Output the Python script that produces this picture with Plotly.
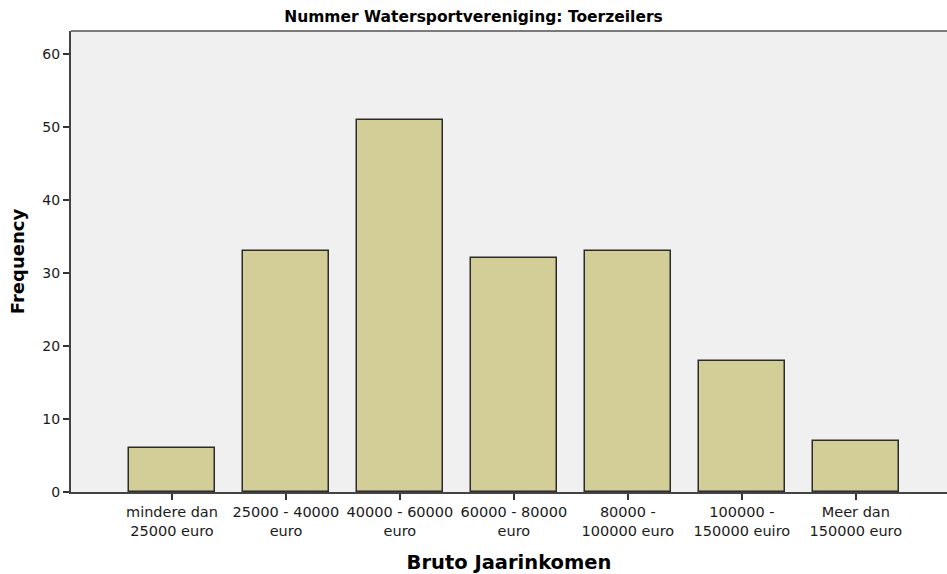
import plotly.graph_objects as go

categories = ["mindere dan<br>25000 euro", "25000 - 40000<br>euro", "40000 - 60000<br>euro",
              "60000 - 80000<br>euro", "80000 -<br>100000 euro", "100000 -<br>150000 euiro",
              "Meer dan<br>150000 euro"]
frequency = [6, 33, 51, 32, 33, 18, 7]
y_ticks = [0, 10, 20, 30, 40, 50, 60]

fig = go.Figure()
fig.add_trace(go.Bar(
    x=list(range(len(categories))), y=frequency,
    width=0.755,
    marker=dict(color="#D3CE97", line=dict(color="#2B2B2B", width=1.5)),
))

fig.update_layout(
    width=947, height=574,
    margin=dict(l=71, r=0, t=31, b=82, autoexpand=False),
    paper_bgcolor="white", plot_bgcolor="#F0F0F0",
    showlegend=False,
    title=dict(text="<b>Nummer Watersportvereniging: Toerzeilers</b>",
               font=dict(family="DejaVu Sans", size=15.5, color="black"),
               x=0.5, xanchor="center", y=0.9704, yanchor="middle"),
    font=dict(family="DejaVu Sans", color="#1a1a1a"),
    bargap=0,
)
fig.update_xaxes(
    range=[-0.886, 6.80],
    tickmode="array", tickvals=list(range(len(categories))), ticktext=categories,
    ticks="outside", ticklen=6, tickwidth=1.5, tickcolor="#333333",
    tickfont=dict(family="DejaVu Sans", size=14.5, color="#1a1a1a"),
    showline=True, linecolor="#444444", linewidth=2,
    showgrid=False, zeroline=False,
    title=dict(text="<b>Bruto Jaarinkomen</b>", font=dict(family="DejaVu Sans", size=19.5, color="black"),
               standoff=20),
)
fig.update_yaxes(
    range=[0, 63.15],
    tickmode="array", tickvals=y_ticks, ticktext=[str(v) for v in y_ticks],
    ticks="outside", ticklen=6, tickwidth=1.5, tickcolor="#333333",
    tickfont=dict(family="DejaVu Sans", size=14, color="#1a1a1a"),
    showline=True, linecolor="#444444", linewidth=2,
    showgrid=False, zeroline=False,
    title=dict(text="<b>Frequency</b>", font=dict(family="DejaVu Sans", size=18, color="black"),
               standoff=13),
)
fig.add_shape(type="line", xref="paper", yref="paper", x0=0, x1=1, y0=1, y1=1,
              line=dict(color="#7A7A7A", width=2))

fig.write_html("out.html", config={"displayModeBar": False},
               post_script="document.body.style.margin='0';document.body.style.overflow='hidden';")
